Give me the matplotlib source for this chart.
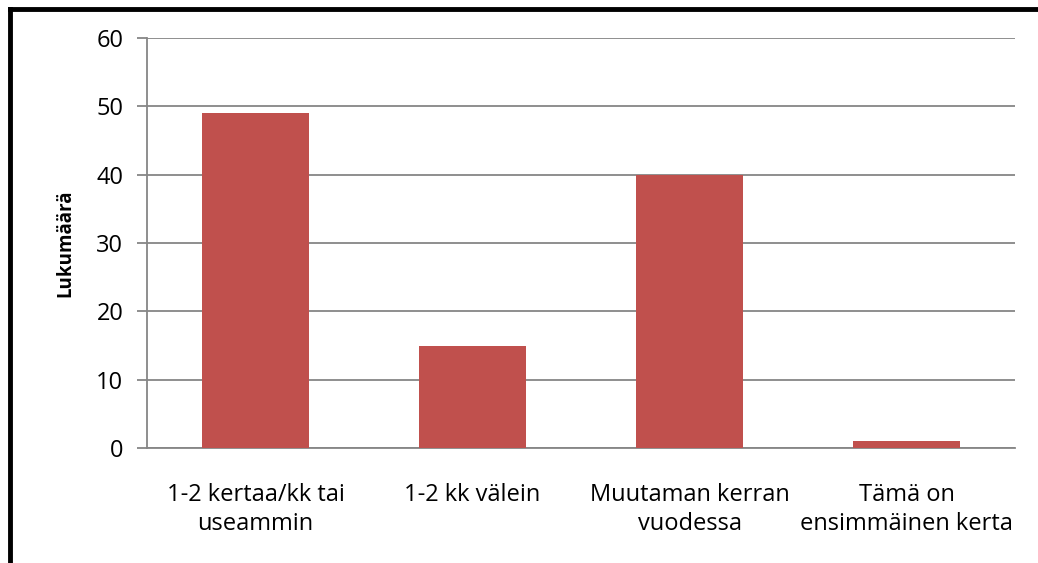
import matplotlib.pyplot as plt
from matplotlib.lines import Line2D

# Dades
categories = ['1-2 kertaa/kk tai\nuseammin', '1-2 kk välein',
              'Muutaman kerran\nvuodessa', 'Tämä on\nensimmäinen kerta']
values = [49, 15, 40, 1]
yticks = [0, 10, 20, 30, 40, 50, 60]

plt.rcParams['font.family'] = ['Open Sans', 'DejaVu Sans']

fig = plt.figure(figsize=(10.38, 5.63), dpi=100)
ax = fig.add_axes([147 / 1038, 1 - 448 / 563, 868 / 1038, 410 / 563])

x = range(len(categories))
ax.bar(x, values, width=0.49, color='#C0504D', zorder=3)

ax.set_xlim(-0.5, len(categories) - 0.5)
ax.set_ylim(0, 60)
ax.set_yticks(yticks)
ax.set_xticks(list(x))
ax.set_xticklabels(categories, fontsize=17, linespacing=1.32)
ax.tick_params(axis='y', labelsize=17, length=7, color='#868686', width=1.3, pad=10)
ax.tick_params(axis='x', length=0, pad=25)
ax.grid(axis='y', color='#868686', linewidth=1.3, zorder=0)
ax.set_axisbelow(True)

for side in ['top', 'right']:
    ax.spines[side].set_visible(False)
ax.spines['left'].set_color('#868686')
ax.spines['left'].set_linewidth(1.3)
ax.spines['bottom'].set_color('#868686')
ax.spines['bottom'].set_linewidth(1.3)

ax.set_ylabel('Lukumäärä', fontsize=13.5, fontweight='bold', labelpad=15)

# marc exterior
fig.add_artist(Line2D([10 / 1038, 1], [1 - 9 / 563, 1 - 9 / 563], color='black', linewidth=3.5,
                      transform=fig.transFigure))
fig.add_artist(Line2D([10 / 1038, 10 / 1038], [0, 1 - 9 / 563], color='black', linewidth=3.5,
                      transform=fig.transFigure))

fig.savefig('out.png', dpi=100)
